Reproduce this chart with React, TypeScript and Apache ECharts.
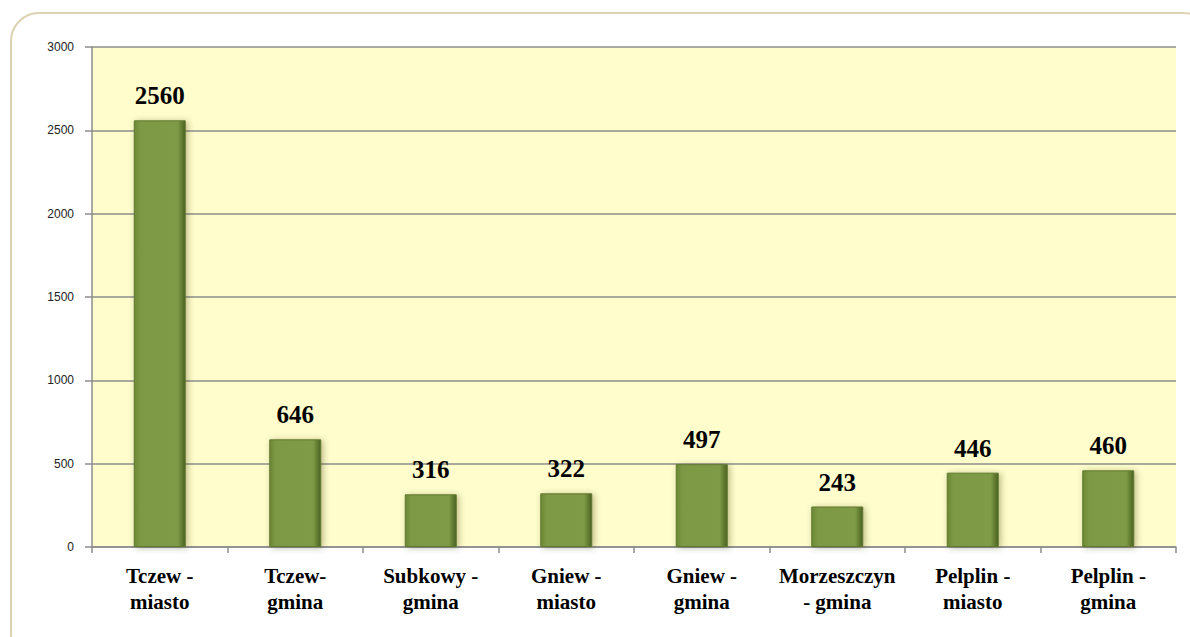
import React, { useEffect, useRef } from "react";
import * as echarts from "echarts";

const categories = [
  "Tczew -\nmiasto",
  "Tczew-\ngmina",
  "Subkowy -\ngmina",
  "Gniew -\nmiasto",
  "Gniew -\ngmina",
  "Morzeszczyn\n- gmina",
  "Pelplin -\nmiasto",
  "Pelplin -\ngmina",
];
const values = [2560, 646, 316, 322, 497, 243, 446, 460];
const yMin = 0;
const yMax = 3000;
const yInterval = 500;

const SERIF = "serif";

export default function App() {
  const ref = useRef<HTMLDivElement>(null);
  useEffect(() => {
    document.body.style.margin = "0";
    if (!ref.current) return;
    const chart = echarts.init(ref.current, null, { renderer: "svg" });
    chart.setOption({
      animation: false,
      backgroundColor: "#ffffff",
      graphic: [
        {
          type: "rect",
          shape: { x: 11, y: 13, width: 1200, height: 650, r: 28 },
          style: { fill: "none", stroke: "#DDD3B2", lineWidth: 2 },
          z: 0,
        },
      ],
      grid: {
        left: 92,
        top: 47,
        right: 14,
        bottom: 90,
        show: true,
        backgroundColor: "#FEFDCB",
        borderWidth: 0,
      },
      xAxis: {
        type: "category",
        data: categories,
        boundaryGap: true,
        axisLine: { show: true, lineStyle: { color: "#8C8C8C", width: 1.5 } },
        axisTick: {
          show: true,
          length: 6,
          alignWithLabel: false,
          lineStyle: { color: "#8C8C8C", width: 1.5 },
        },
        axisLabel: {
          interval: 0,
          margin: 16,
          fontFamily: SERIF,
          fontStyle: "normal",
          fontWeight: "bold",
          fontSize: 21,
          lineHeight: 26,
          color: "#000000",
        },
      },
      yAxis: {
        type: "value",
        min: yMin,
        max: yMax,
        interval: yInterval,
        axisLine: { show: true, lineStyle: { color: "#8C8C8C", width: 1.5 } },
        axisTick: { show: true, length: 7, lineStyle: { color: "#8C8C8C", width: 1.5 } },
        splitLine: { show: true, lineStyle: { color: "#8C8C8C", width: 1.5 } },
        axisLabel: {
          margin: 18,
          color: "#222222",
          formatter: (v: number) => String(v),
        },
      },
      series: [
        {
          type: "bar",
          data: values,
          barWidth: 52,
          itemStyle: {
            color: new echarts.graphic.LinearGradient(0, 0, 1, 0, [
              { offset: 0, color: "#6C8835" },
              { offset: 0.12, color: "#7E9944" },
              { offset: 0.85, color: "#809B47" },
              { offset: 0.93, color: "#627D30" },
              { offset: 1, color: "#4C6126" },
            ]),
            borderColor: "#5F7A2E",
            borderWidth: 1,
            shadowColor: "rgba(60,60,0,0.35)",
            shadowBlur: 6,
            shadowOffsetX: 2,
            shadowOffsetY: 1,
          },
          label: {
            show: true,
            position: "top",
            distance: 12,
            fontFamily: SERIF,
            fontWeight: "bold",
            fontSize: 25,
            color: "#000000",
          },
        },
      ],
    });
    return () => chart.dispose();
  }, []);
  return <div ref={ref} style={{ width: 1190, height: 637 }} />;
}
